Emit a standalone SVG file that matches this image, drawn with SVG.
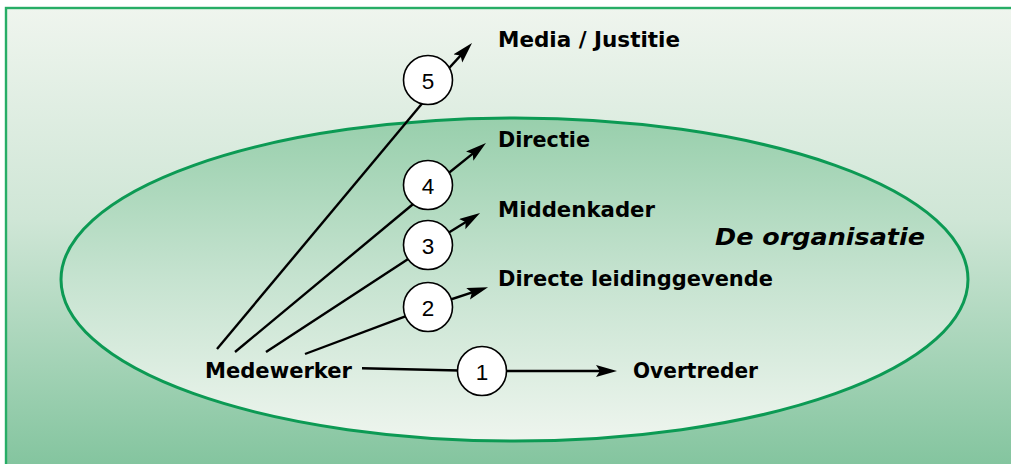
<svg xmlns="http://www.w3.org/2000/svg" width="1011" height="464" viewBox="0 0 1011 464">
  <defs>
    <linearGradient id="bgGrad" x1="0" y1="0" x2="0" y2="1">
      <stop offset="0" stop-color="#eff5ee"/>
      <stop offset="0.45" stop-color="#cfe6d6"/>
      <stop offset="1" stop-color="#80c39c"/>
    </linearGradient>
    <linearGradient id="orgGrad" x1="0" y1="0" x2="0" y2="1">
      <stop offset="0" stop-color="#98cfac"/>
      <stop offset="0.5" stop-color="#c6e3d0"/>
      <stop offset="1" stop-color="#eef5ee"/>
    </linearGradient>
    <marker id="head" markerUnits="userSpaceOnUse" markerWidth="22" markerHeight="14" refX="10" refY="6" orient="auto">
      <path d="M0,0 L21,6 L0,12 L4,6 Z" fill="#000"/>
    </marker>
    <style>
      .lbl { font-family: "DejaVu Sans", "Liberation Sans", sans-serif; font-weight: bold; font-size: 20.5px; fill: #000; }
      .title { font-family: "DejaVu Sans", "Liberation Sans", sans-serif; font-weight: bold; font-style: italic; font-size: 23px; fill: #000; }
      .num { font-family: "Liberation Sans", Arial, sans-serif; font-size: 22.5px; fill: #000; text-anchor: middle; }
      .ln { stroke: #000; stroke-width: 2.4; fill: none; }
      .arr { stroke: #000; stroke-width: 2.4; fill: none; marker-end: url(#head); }
      .badge { fill: #fff; stroke: #000; stroke-width: 1.6; }
    </style>
  </defs>

  <!-- page background and frame -->
  <rect x="0" y="0" width="1011" height="464" fill="#fff"/>
  <rect x="6" y="8" width="1020" height="470" fill="url(#bgGrad)" stroke="#27ad66" stroke-width="2.4"/>

  <!-- organisation boundary -->
  <g id="organisatie">
    <ellipse cx="514.5" cy="279.5" rx="453.5" ry="161.5" fill="url(#orgGrad)" stroke="#0c9a54" stroke-width="3"/>
    <text class="title" x="715" y="245" textLength="210" lengthAdjust="spacingAndGlyphs">De organisatie</text>
  </g>

  <!-- connectors -->
  <g id="connectors">
    <line class="ln" x1="217" y1="349" x2="425" y2="100"/>
    <line class="ln" x1="235" y1="352" x2="418" y2="200"/>
    <line class="ln" x1="266" y1="352" x2="412" y2="256.5"/>
    <line class="ln" x1="305" y1="354" x2="410" y2="314.7"/>
    <line class="ln" x1="362" y1="368.3" x2="470" y2="370.7"/>

    <line class="arr" x1="440" y1="78" x2="464.6" y2="51.1"/>
    <line class="arr" x1="440" y1="180" x2="477.4" y2="149.9"/>
    <line class="arr" x1="440" y1="238" x2="470.7" y2="218.9"/>
    <line class="arr" x1="440" y1="303" x2="477.6" y2="290.6"/>
    <line class="arr" x1="495" y1="371" x2="606" y2="371"/>

    <g id="step5"><circle class="badge" cx="428" cy="80" r="24.5"/><text class="num" x="428" y="88.5">5</text></g>
    <g id="step4"><circle class="badge" cx="428" cy="185" r="24.5"/><text class="num" x="428" y="193.5">4</text></g>
    <g id="step3"><circle class="badge" cx="428" cy="245" r="24.5"/><text class="num" x="428" y="253.5">3</text></g>
    <g id="step2"><circle class="badge" cx="428" cy="307" r="24.5"/><text class="num" x="428" y="315.5">2</text></g>
    <g id="step1"><circle class="badge" cx="482" cy="371" r="24.5"/><text class="num" x="482" y="379.5">1</text></g>
  </g>

  <!-- parties -->
  <g id="medewerker"><text class="lbl" x="205" y="378" textLength="147" lengthAdjust="spacingAndGlyphs">Medewerker</text></g>
  <g id="overtreder"><text class="lbl" x="633" y="378" textLength="125" lengthAdjust="spacingAndGlyphs">Overtreder</text></g>
  <g id="leidinggevende"><text class="lbl" x="498" y="286" textLength="275" lengthAdjust="spacingAndGlyphs">Directe leidinggevende</text></g>
  <g id="middenkader"><text class="lbl" x="498" y="217" textLength="157" lengthAdjust="spacingAndGlyphs">Middenkader</text></g>
  <g id="directie"><text class="lbl" x="498" y="147" textLength="92" lengthAdjust="spacingAndGlyphs">Directie</text></g>
  <g id="media"><text class="lbl" x="498" y="47" textLength="182" lengthAdjust="spacingAndGlyphs">Media / Justitie</text></g>
</svg>
